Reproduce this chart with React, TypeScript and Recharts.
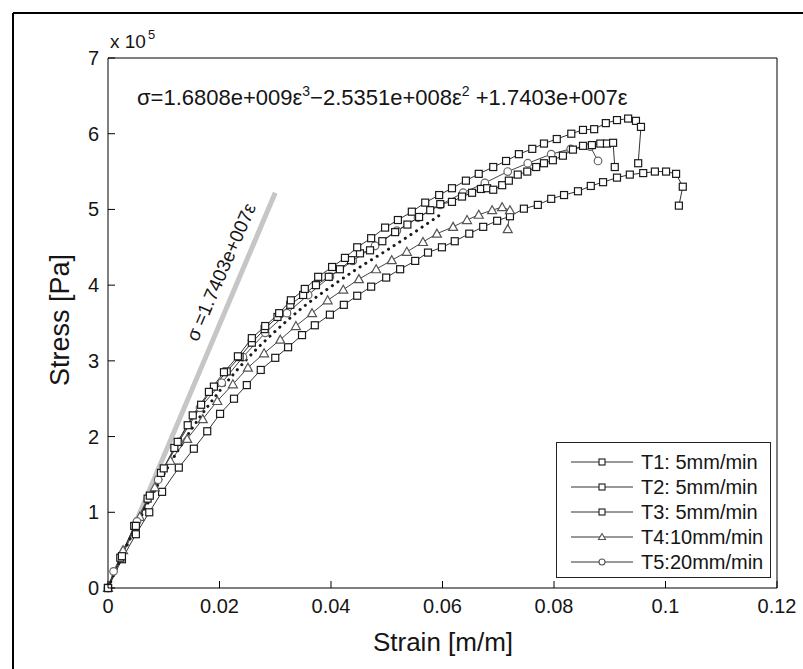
import React from 'react';
import { ComposedChart, Line, XAxis, YAxis } from 'recharts';

// strain [m/m], stress [x 1e5 Pa]
const t1: [number, number][] = [
  [0, 0], [0.0025, 0.42], [0.005, 0.82], [0.0075, 1.22], [0.01, 1.58], [0.0125, 1.93], [0.0152, 2.28],
  [0.0181, 2.59], [0.0208, 2.85], [0.0233, 3.06], [0.0258, 3.3], [0.0282, 3.46], [0.0307, 3.63],
  [0.0328, 3.8], [0.0353, 3.95], [0.0377, 4.11], [0.0402, 4.24], [0.0425, 4.36], [0.0447, 4.5],
  [0.0472, 4.62], [0.0497, 4.76], [0.052, 4.86], [0.0545, 4.97], [0.0569, 5.09], [0.0594, 5.19],
  [0.0617, 5.28], [0.0642, 5.38], [0.0665, 5.47], [0.0691, 5.56], [0.0714, 5.64], [0.0737, 5.73],
  [0.0761, 5.8], [0.0782, 5.87], [0.0805, 5.93], [0.0831, 6.0], [0.0852, 6.05], [0.0872, 6.06],
  [0.0893, 6.14], [0.0913, 6.18], [0.0933, 6.2], [0.0947, 6.17], [0.0956, 6.09], [0.0951, 5.61],
];

const t2: [number, number][] = [
  [0, 0], [0.0022, 0.4], [0.0047, 0.82], [0.0071, 1.18], [0.0095, 1.52], [0.0119, 1.85], [0.0143, 2.15],
  [0.0167, 2.42], [0.019, 2.66], [0.0213, 2.86], [0.0236, 3.05], [0.0258, 3.24], [0.0281, 3.42],
  [0.0304, 3.58], [0.0327, 3.74], [0.035, 3.87], [0.0373, 4.0], [0.0396, 4.11], [0.0416, 4.21],
  [0.0436, 4.33], [0.0452, 4.42], [0.047, 4.46], [0.0492, 4.58], [0.0515, 4.7], [0.0537, 4.8],
  [0.0558, 4.9], [0.0578, 4.99], [0.0596, 5.07], [0.0617, 5.1], [0.0635, 5.17], [0.0653, 5.22],
  [0.0669, 5.27], [0.068, 5.28], [0.0691, 5.26], [0.0707, 5.32], [0.0719, 5.38], [0.0735, 5.46],
  [0.0752, 5.5], [0.0768, 5.56], [0.0782, 5.61], [0.0798, 5.65], [0.0816, 5.71], [0.0834, 5.79],
  [0.0852, 5.84], [0.0868, 5.85], [0.0883, 5.87], [0.0895, 5.87], [0.0906, 5.88], [0.0909, 5.56],
];

const t3: [number, number][] = [
  [0, 0], [0.0025, 0.38], [0.005, 0.71], [0.0074, 1.0], [0.0097, 1.27], [0.0127, 1.59], [0.0154, 1.84],
  [0.0178, 2.07], [0.0201, 2.3], [0.0226, 2.5], [0.0249, 2.68], [0.0274, 2.88], [0.03, 3.04],
  [0.0323, 3.18], [0.0348, 3.34], [0.0371, 3.47], [0.0398, 3.61], [0.0423, 3.74], [0.0447, 3.86],
  [0.0472, 3.98], [0.0499, 4.1], [0.0524, 4.21], [0.0551, 4.32], [0.0574, 4.43], [0.0599, 4.5],
  [0.0622, 4.58], [0.0648, 4.68], [0.0673, 4.77], [0.0698, 4.85], [0.0721, 4.91], [0.0746, 5.01],
  [0.0771, 5.06], [0.0795, 5.14], [0.0818, 5.19], [0.0843, 5.24], [0.0866, 5.31], [0.0888, 5.36],
  [0.0913, 5.42], [0.0936, 5.46], [0.096, 5.48], [0.0981, 5.5], [0.1001, 5.5], [0.1019, 5.47],
  [0.1031, 5.3], [0.1024, 5.05],
];

const t4: [number, number][] = [
  [0, 0], [0.0027, 0.5], [0.0057, 0.94], [0.0084, 1.33], [0.0112, 1.68], [0.0142, 1.97], [0.017, 2.23],
  [0.0196, 2.47], [0.0224, 2.69], [0.0251, 2.91], [0.028, 3.1], [0.0309, 3.28], [0.0337, 3.46],
  [0.0366, 3.63], [0.0394, 3.8], [0.0422, 3.94], [0.045, 4.08], [0.0481, 4.21], [0.0509, 4.33],
  [0.0536, 4.44], [0.0565, 4.57], [0.059, 4.68], [0.0619, 4.77], [0.0644, 4.86], [0.0665, 4.93],
  [0.0689, 4.99], [0.0707, 5.03], [0.0721, 4.99], [0.0717, 4.74],
];

const t5: [number, number][] = [
  [0, 0], [0.001, 0.22], [0.0052, 0.88], [0.009, 1.43], [0.0127, 1.93], [0.0165, 2.38], [0.0204, 2.71],
  [0.0242, 3.05], [0.0282, 3.37], [0.0321, 3.63], [0.0359, 3.87], [0.0398, 4.11], [0.0439, 4.32],
  [0.0479, 4.52], [0.0518, 4.72], [0.0556, 4.89], [0.0596, 5.06], [0.0637, 5.22], [0.0676, 5.35],
  [0.0717, 5.5], [0.0753, 5.61], [0.0795, 5.73], [0.083, 5.8], [0.0865, 5.83], [0.0879, 5.64],
];

// cubic fit curve
const fitCurve: [number, number][] = [
  [0, 0], [0.005, 0.81], [0.01, 1.5], [0.015, 2.1], [0.02, 2.6], [0.025, 3.03], [0.03, 3.39],
  [0.035, 3.71], [0.04, 3.98], [0.045, 4.23], [0.05, 4.46], [0.055, 4.7], [0.06, 4.95],
];

// linear (initial modulus) line
const linearLine: [number, number][] = [[0.005, 0.87], [0.03, 5.22]];

const xTicks = [0, 0.02, 0.04, 0.06, 0.08, 0.1, 0.12];
const yTicks = [0, 1, 2, 3, 4, 5, 6, 7];

const legendItems = [
  { name: 'T1: 5mm/min', marker: 'square' },
  { name: 'T2: 5mm/min', marker: 'square' },
  { name: 'T3: 5mm/min', marker: 'square' },
  { name: 'T4:10mm/min', marker: 'triangle' },
  { name: 'T5:20mm/min', marker: 'circle' },
];

const FONT = '"Liberation Sans", Arial, Helvetica, sans-serif';
const TXT = '#151515';

const toRows = (arr: [number, number][]) => arr.map(([x, y]) => ({ x, y }));

const SquareDot = (props: any) => {
  const { cx, cy } = props;
  if (cx == null || cy == null) return null;
  return <rect x={cx - 3.5} y={cy - 3.5} width={7} height={7} fill="#fff" stroke="#1a1a1a" strokeWidth={1.2} />;
};
const TriangleDot = (props: any) => {
  const { cx, cy } = props;
  if (cx == null || cy == null) return null;
  return (
    <polygon
      points={`${cx},${cy - 4.5} ${cx - 4.5},${cy + 3.5} ${cx + 4.5},${cy + 3.5}`}
      fill="#fff"
      stroke="#555"
      strokeWidth={1.2}
    />
  );
};
const CircleDot = (props: any) => {
  const { cx, cy } = props;
  if (cx == null || cy == null) return null;
  return <circle cx={cx} cy={cy} r={3.8} fill="#fff" stroke="#666" strokeWidth={1.2} />;
};

const fmtX = (v: number) => (v === 0 ? '0' : String(v));

const BottomTick = (props: any) => {
  const { x, y, payload } = props;
  return (
    <g>
      <line x1={x} y1={y} x2={x} y2={y - 7} stroke="#000" strokeWidth={1} />
      <text x={x} y={y + 25} textAnchor="middle" fontSize={20} fill={TXT} fontFamily={FONT}>
        {fmtX(payload.value)}
      </text>
    </g>
  );
};
const TopTick = (props: any) => {
  const { x, y } = props;
  return <line x1={x} y1={y} x2={x} y2={y + 7} stroke="#000" strokeWidth={1} />;
};
const LeftTick = (props: any) => {
  const { x, y, payload } = props;
  return (
    <g>
      <line x1={x} y1={y} x2={x + 7} y2={y} stroke="#000" strokeWidth={1} />
      <text x={x - 9} y={y + 7} textAnchor="end" fontSize={20} fill={TXT} fontFamily={FONT}>
        {String(payload.value)}
      </text>
    </g>
  );
};
const RightTick = (props: any) => {
  const { x, y } = props;
  return <line x1={x} y1={y} x2={x - 7} y2={y} stroke="#000" strokeWidth={1} />;
};

const LegendBox = () => (
  <svg
    width={216}
    height={137}
    style={{ position: 'absolute', left: 556, top: 442, overflow: 'visible' }}
  >
    <rect x={0.5} y={0.5} width={214} height={135} fill="#fff" stroke="#222" strokeWidth={1} />
    {legendItems.map((it, i) => {
      const cy = 20 + i * 25;
      return (
        <g key={it.name}>
          <line x1={15} y1={cy} x2={77} y2={cy} stroke="#333" strokeWidth={1} />
          {it.marker === 'square' && (
            <rect x={43} y={cy - 3} width={6} height={6} fill="#fff" stroke="#1a1a1a" strokeWidth={1.1} />
          )}
          {it.marker === 'triangle' && (
            <polygon points={`46,${cy - 3.5} 42.5,${cy + 2.5} 49.5,${cy + 2.5}`} fill="#fff" stroke="#555" strokeWidth={1.1} />
          )}
          {it.marker === 'circle' && <circle cx={46} cy={cy} r={3} fill="#fff" stroke="#555" strokeWidth={1.1} />}
          <text x={85} y={cy + 7} fontSize={20} fill={TXT} fontFamily={FONT}>
            {it.name}
          </text>
        </g>
      );
    })}
  </svg>
);

const Overlay = () => (
  <svg width={803} height={669} style={{ position: 'absolute', left: 0, top: 0, pointerEvents: 'none' }}>
    <line x1={13} y1={13} x2={803} y2={13} stroke="#000" strokeWidth={2} />
    <line x1={13} y1={13} x2={13} y2={669} stroke="#000" strokeWidth={2} />
    <text x={110} y={48} fontSize={19} fill={TXT} fontFamily={FONT}>
      x 10
      <tspan dx={2} dy={-9} fontSize={13}>5</tspan>
    </text>
    <text x={137} y={105} fontSize={22} fill={TXT} fontFamily={FONT}>
      σ=1.6808e+009ε
      <tspan dy={-9} fontSize={14}>3</tspan>
      <tspan dy={9} fontSize={22}>−2.5351e+008ε</tspan>
      <tspan dy={-9} fontSize={14}>2</tspan>
      <tspan dy={9} fontSize={22}> +1.7403e+007ε</tspan>
    </text>
    <text
      x={221}
      y={272}
      fontSize={19}
      fill={TXT}
      fontFamily={FONT}
      textAnchor="middle"
      dominantBaseline="central"
      transform="rotate(-66.5 221 272)"
    >
      σ =1.7403e+007ε
    </text>
    <text
      x={60}
      y={320}
      fontSize={27}
      fill={TXT}
      fontFamily={FONT}
      textAnchor="middle"
      dominantBaseline="central"
      transform="rotate(-90 60 320)"
    >
      Stress [Pa]
    </text>
    <text x={443} y={651} fontSize={26} fill={TXT} fontFamily={FONT} textAnchor="middle">
      Strain [m/m]
    </text>
  </svg>
);

export default function App() {
  return (
    <div style={{ position: 'absolute', left: 0, top: 0, width: 803, height: 669, background: '#fff' }}>
      <ComposedChart
        width={803}
        height={669}
        margin={{ top: 57, right: 25, bottom: 80, left: 107 }}
      >
        <XAxis
          type="number"
          dataKey="x"
          domain={[0, 0.12]}
          ticks={xTicks}
          interval={0}
          height={1}
          tickSize={0}
          tickMargin={0}
          tick={<BottomTick />}
          axisLine={{ stroke: '#000', strokeWidth: 1 }}
          tickLine={false}
        />
        <XAxis
          xAxisId="top"
          orientation="top"
          type="number"
          dataKey="x"
          domain={[0, 0.12]}
          ticks={xTicks}
          interval={0}
          height={1}
          tickSize={0}
          tickMargin={0}
          tick={<TopTick />}
          axisLine={{ stroke: '#000', strokeWidth: 1 }}
          tickLine={false}
        />
        <YAxis
          type="number"
          dataKey="y"
          domain={[0, 7]}
          ticks={yTicks}
          interval={0}
          width={1}
          tickSize={0}
          tickMargin={0}
          tick={<LeftTick />}
          axisLine={{ stroke: '#000', strokeWidth: 1 }}
          tickLine={false}
        />
        <YAxis
          yAxisId="right"
          orientation="right"
          type="number"
          dataKey="y"
          domain={[0, 7]}
          ticks={yTicks}
          interval={0}
          width={1}
          tickSize={0}
          tickMargin={0}
          tick={<RightTick />}
          axisLine={{ stroke: '#000', strokeWidth: 1 }}
          tickLine={false}
        />
        <Line
          data={toRows(linearLine)}
          dataKey="y"
          type="linear"
          stroke="#c6c6c6"
          strokeWidth={5}
          dot={false}
          activeDot={false}
          isAnimationActive={false}
        />
        <Line data={toRows(t3)} dataKey="y" type="linear" stroke="#333" strokeWidth={1} dot={<SquareDot />} activeDot={false} isAnimationActive={false} />
        <Line data={toRows(t4)} dataKey="y" type="linear" stroke="#444" strokeWidth={1} dot={<TriangleDot />} activeDot={false} isAnimationActive={false} />
        <Line data={toRows(t5)} dataKey="y" type="linear" stroke="#444" strokeWidth={1} dot={<CircleDot />} activeDot={false} isAnimationActive={false} />
        <Line data={toRows(t2)} dataKey="y" type="linear" stroke="#333" strokeWidth={1} dot={<SquareDot />} activeDot={false} isAnimationActive={false} />
        <Line data={toRows(t1)} dataKey="y" type="linear" stroke="#333" strokeWidth={1} dot={<SquareDot />} activeDot={false} isAnimationActive={false} />
        <Line
          data={toRows(fitCurve)}
          dataKey="y"
          type="monotone"
          stroke="#1a1a1a"
          strokeWidth={3}
          strokeDasharray="0.1 6.6"
          strokeLinecap="round"
          dot={false}
          activeDot={false}
          isAnimationActive={false}
        />
      </ComposedChart>
      <Overlay />
      <LegendBox />
    </div>
  );
}
